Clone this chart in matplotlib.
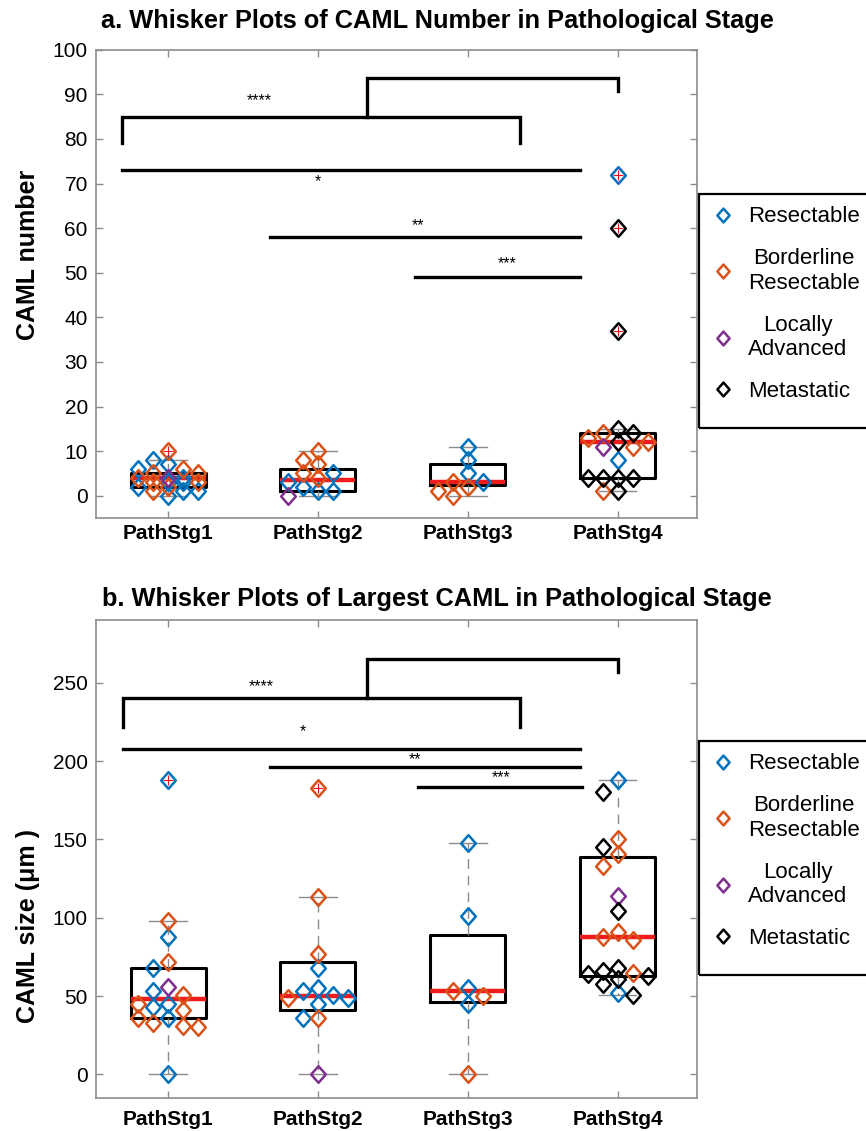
# plot.py
# Whisker plots of CAML number and largest CAML size by pathological stage
import numpy as np
import matplotlib
matplotlib.use('Agg')
import matplotlib.pyplot as plt
from matplotlib.path import Path
from matplotlib.lines import Line2D
from matplotlib.patches import Rectangle

plt.rcParams['font.family'] = ['Liberation Sans', 'DejaVu Sans']

# ---- data -------------------------------------------------------------
stages = ['PathStg1', 'PathStg2', 'PathStg3', 'PathStg4']
categories = ['Resectable', 'Borderline\nResectable', 'Locally\nAdvanced', 'Metastatic']
cat_colors = ['#0072BD', '#D95319', '#7E2F8E', '#000000']

# CAML number, one list per stage for each category
num_resect = [[0, 1, 1, 2, 3, 3, 4, 6, 7, 8], [1, 1, 2, 3, 5], [11, 8, 5, 3], [72, 8]]
num_border = [[10, 6, 5, 5, 4, 3, 3, 2, 1], [10, 8, 7, 5, 4], [3, 2, 1, 0], [14, 13, 12, 11, 1]]
num_local = [[4], [0], [], [11]]
num_meta = [[], [], [], [60, 37, 15, 14, 12, 4, 4, 4, 4, 1]]

# box statistics for CAML number
num_q1 = [2, 1, 2.5, 4]
num_med = [4, 3.5, 3, 12]
num_q3 = [5, 6, 7, 14]
num_lo = [0, 0, 0, 1]
num_hi = [8, 10, 11, 15]
num_out = [[10], [], [], [72, 60, 37]]

# largest CAML size (um)
size_resect = [[188, 88, 68, 53, 45, 43, 36, 0], [68, 55, 53, 51, 49, 45, 36],
               [148, 101, 55, 45], [188, 52]]
size_border = [[98, 72, 51, 45, 41, 36, 33, 31, 30], [183, 113, 77, 49, 36],
               [53, 50, 0], [150, 141, 133, 91, 88, 86, 65]]
size_local = [[56], [0], [], [114]]
size_meta = [[], [], [], [180, 145, 104, 68, 66, 64, 63, 61, 58, 51]]

size_q1 = [36, 41, 46, 63]
size_med = [48, 50, 53, 88]
size_q3 = [68, 72, 89, 139]
size_lo = [0, 0, 0, 51]
size_hi = [98, 113, 148, 188]
size_out = [[188], [183], [], []]

# significance lines: (x start, x end, height, label, label x, label y)
num_sig = [(0.69, 3.75, 73, '*', 2.0, 70.5), (1.68, 3.75, 58, '**', 2.67, 60.5),
           (2.65, 3.75, 49, '***', 3.26, 52)]
size_sig = [(0.70, 3.75, 208, '*', 1.9, 219), (1.68, 3.75, 196, '**', 2.65, 201),
            (2.67, 3.76, 183.5, '***', 3.22, 189.5)]

# ---- helpers ----------------------------------------------------------
diamond = Path([(0, 1), (0.88, 0), (0, -1), (-0.88, 0), (0, 1)],
               [Path.MOVETO, Path.LINETO, Path.LINETO, Path.LINETO, Path.CLOSEPOLY])


def swarm(values, px_per_unit, sep_px=13):
    # spread close points over five slots around the box centre
    slots = [0, -1, 1, -2, 2]
    placed = {s: [] for s in slots}
    offs = np.zeros(len(values))
    for i in np.argsort(values)[::-1]:
        v = values[i]
        pick = None
        for s in slots:
            if all(abs(v - u) * px_per_unit >= sep_px for u in placed[s]):
                pick = s
                break
        if pick is None:
            pick = max(slots, key=lambda s: min(abs(v - u) for u in placed[s]))
        placed[pick].append(v)
        offs[i] = pick * 0.1
    return offs


def panel(ax, groups, q1, med, q3, lo, hi, out, ylim, yticks, px_per_unit, xpad):
    stats = []
    for k in range(4):
        stats.append(dict(q1=q1[k], med=med[k], q3=q3[k], whislo=lo[k],
                          whishi=hi[k], fliers=out[k]))
    ax.bxp(stats, positions=[1, 2, 3, 4], widths=0.5, capwidths=0.25,
           boxprops=dict(color='black', linewidth=2.2),
           medianprops=dict(color='#EE1C1C', linewidth=3.2),
           whiskerprops=dict(color='#8C8C8C', linewidth=1.0, linestyle=(0, (7, 5))),
           capprops=dict(color='#8C8C8C', linewidth=1.0),
           flierprops=dict(marker='+', markeredgecolor='#E8141B', markersize=7,
                           markeredgewidth=0.8, zorder=5))
    for k in range(4):
        vals, cols = [], []
        for c, lst in enumerate(groups):
            vals += lst[k]
            cols += [cat_colors[c]] * len(lst[k])
        vals = np.array(vals, dtype=float)
        offs = swarm(vals, px_per_unit)
        for v, o, col in zip(vals, offs, cols):
            ax.plot(k + 1 + o, v, linestyle='none', marker=diamond, markersize=12,
                    markerfacecolor='none', markeredgecolor=col,
                    markeredgewidth=1.8, zorder=4)
    ax.set_xlim(0.52, 4.53)
    ax.set_ylim(*ylim)
    ax.set_yticks(yticks)
    ax.set_xticks([1, 2, 3, 4])
    ax.set_xticklabels(stages, fontsize=15, fontweight='bold')
    ax.tick_params(axis='y', labelsize=15, pad=6)
    ax.tick_params(direction='in', top=True, right=True, length=5,
                   color='#8C8C8C', width=1)
    ax.tick_params(axis='x', pad=xpad)
    for s in ax.spines.values():
        s.set_color('#8C8C8C')
        s.set_linewidth(1.2)


def brackets(ax, left, right, mid, top, end, leg, label, lab_xy, sig):
    lw = 2.4
    ax.plot([left, left, right, right], [leg, top, top, leg], color='black', lw=lw,
            solid_joinstyle='miter', clip_on=False)
    ax.plot([mid, mid, 4.0, 4.0], [top, end, end, end - (end - top) * 0.35],
            color='black', lw=lw, solid_joinstyle='miter', clip_on=False)
    ax.text(lab_xy[0], lab_xy[1], label, ha='center', va='center', fontsize=11.5)
    for x1, x2, y, lab, tx, ty in sig:
        ax.plot([x1, x2], [y, y], color='black', lw=lw)
        ax.text(tx, ty, lab, ha='center', va='center', fontsize=11.5)


# ---- figure -----------------------------------------------------------
fig = plt.figure(figsize=(8.66, 11.31), dpi=100)

ax1 = fig.add_axes([0.111, 0.542, 0.694, 0.414])
panel(ax1, [num_resect, num_border, num_local, num_meta],
      num_q1, num_med, num_q3, num_lo, num_hi, num_out,
      (-5, 100), np.arange(0, 101, 10), 4.45, 4)
ax1.set_ylabel('CAML number', fontsize=18, fontweight='bold')
ax1.yaxis.set_label_coords(-0.094, 0.562)
brackets(ax1, 0.69, 3.35, 2.33, 85, 93.7, 79, '****', (1.61, 88.5), num_sig)

ax2 = fig.add_axes([0.111, 0.0292, 0.694, 0.4226])
panel(ax2, [size_resect, size_border, size_local, size_meta],
      size_q1, size_med, size_q3, size_lo, size_hi, size_out,
      (-15, 290), np.arange(0, 251, 50), 1.568, 9)
ax2.set_ylabel('CAML size (μm )', fontsize=18, fontweight='bold')
ax2.yaxis.set_label_coords(-0.094, 0.36)
brackets(ax2, 0.70, 3.35, 2.33, 240.4, 265.3, 222, '****', (1.62, 247.5), size_sig)

fig.text(0.505, 0.981, 'a. Whisker Plots of CAML Number in Pathological Stage',
         ha='center', va='center', fontsize=18.3, fontweight='bold')
fig.text(0.505, 0.470, 'b. Whisker Plots of Largest CAML in Pathological Stage',
         ha='center', va='center', fontsize=18.3, fontweight='bold')

# legends with a plain black frame running off the right edge
handles = [Line2D([], [], linestyle='none', marker=diamond, markersize=10,
                  markerfacecolor='none', markeredgecolor=c, markeredgewidth=1.8)
           for c in cat_colors]
for ax, top in [(ax1, 194), (ax2, 741)]:
    ytop = 1 - top / 1131
    fig.patches.append(Rectangle((699 / 866, ytop - 234 / 1131), 0.3, 234 / 1131,
                                 transform=fig.transFigure, fill=False,
                                 edgecolor='black', linewidth=1.6))
    leg = fig.legend(handles, categories, loc='upper left',
                     bbox_to_anchor=(699 / 866, ytop + 1 / 1131), frameon=False,
                     fontsize=16, handlelength=1.0, handletextpad=0.6,
                     labelspacing=0.95, borderpad=0.3, borderaxespad=0.3)
    for t in leg.get_texts():
        t.set_multialignment('center')

fig.savefig('out.png', dpi=100)
